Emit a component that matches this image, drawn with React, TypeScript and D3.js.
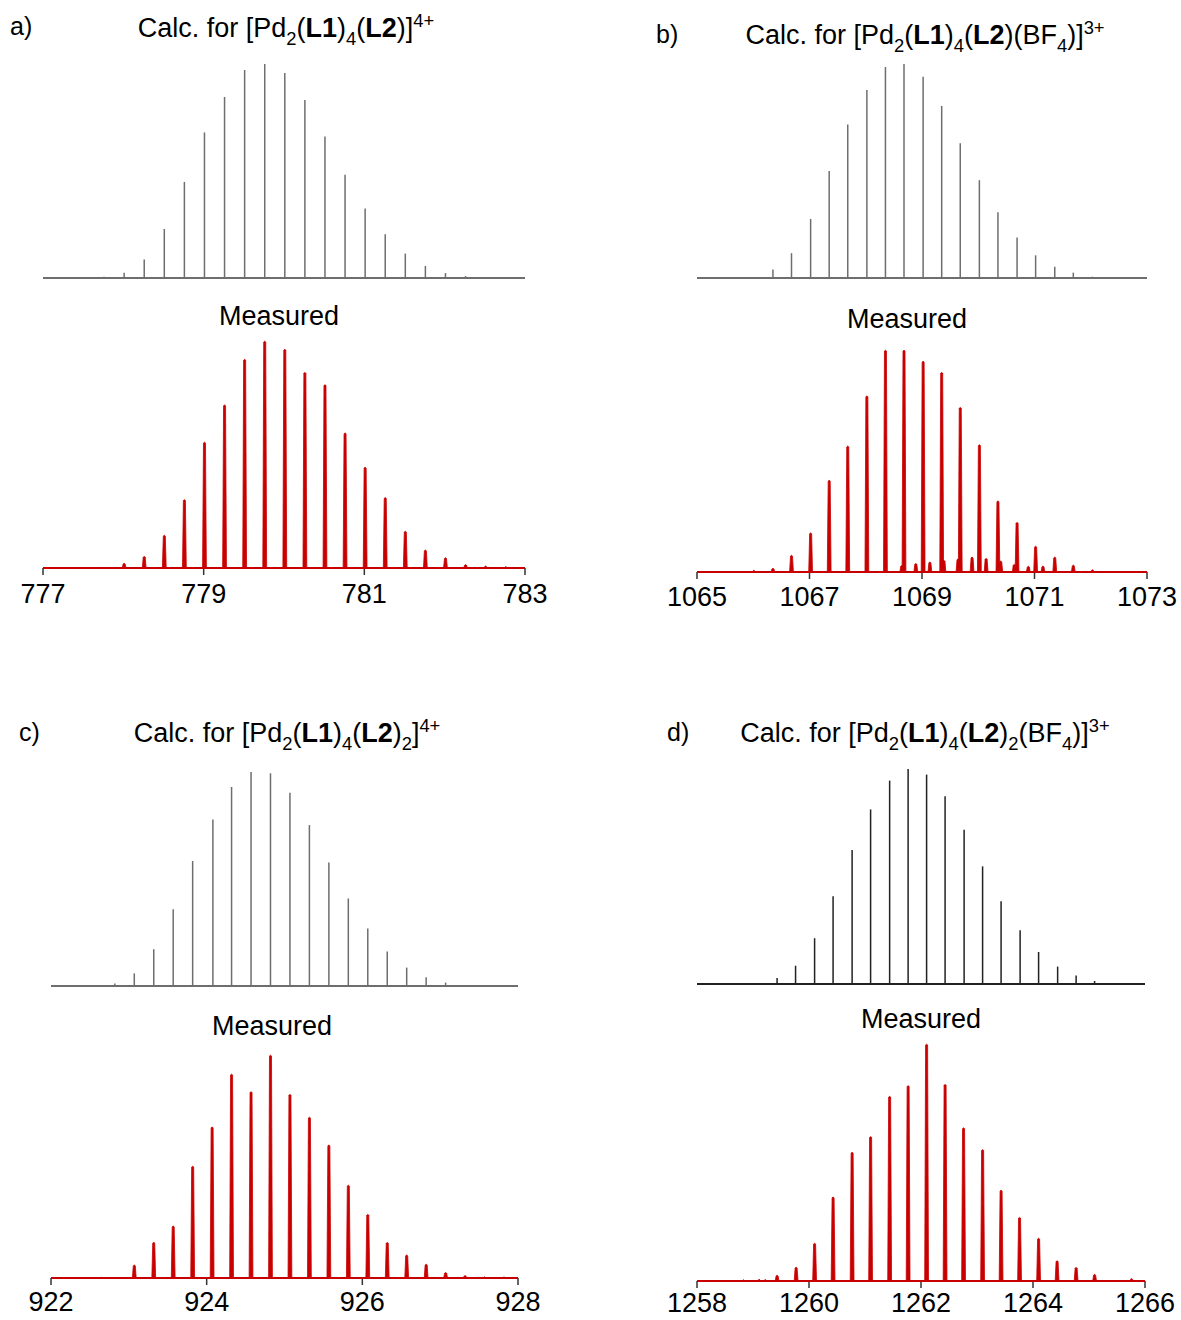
import React from "react";
import * as d3 from "d3";

// ---- isotope patterns: m/z and relative intensity ----
const calcA_mz = [777.76, 778.01, 778.26, 778.51, 778.76, 779.01, 779.26, 779.51, 779.76, 780.01, 780.26, 780.51, 780.76, 781.01, 781.26, 781.51, 781.76, 782.01, 782.26];
const calcA_int = [0.006, 0.025, 0.086, 0.229, 0.449, 0.68, 0.846, 0.972, 1.0, 0.958, 0.832, 0.661, 0.482, 0.325, 0.204, 0.114, 0.056, 0.023, 0.009];
const measA_mz = [777.25, 777.76, 778.01, 778.26, 778.51, 778.76, 779.01, 779.26, 779.51, 779.76, 780.01, 780.26, 780.51, 780.76, 781.01, 781.26, 781.51, 781.76, 782.01, 782.26, 782.51, 782.76];
const measA_int = [0.003, 0.004, 0.022, 0.052, 0.145, 0.302, 0.555, 0.719, 0.92, 1.0, 0.964, 0.862, 0.808, 0.596, 0.445, 0.311, 0.163, 0.08, 0.046, 0.016, 0.01, 0.007];

const calcB_mz = [1066.01, 1066.35, 1066.68, 1067.02, 1067.35, 1067.68, 1068.02, 1068.35, 1068.68, 1069.02, 1069.35, 1069.68, 1070.02, 1070.35, 1070.69, 1071.02, 1071.36, 1071.69, 1072.03];
const calcB_int = [0.005, 0.04, 0.116, 0.276, 0.5, 0.717, 0.879, 0.986, 1.0, 0.941, 0.804, 0.63, 0.457, 0.307, 0.189, 0.106, 0.053, 0.025, 0.006];
const measB_mz = [1065.67, 1066.01, 1066.35, 1066.68, 1067.02, 1067.35, 1067.68, 1068.02, 1068.35, 1068.68, 1069.02, 1069.35, 1069.68, 1070.02, 1070.35, 1070.69, 1071.02, 1071.36, 1071.69, 1072.03, 1072.36, 1072.7, 1072.83];
const measB_int = [0.003, 0.009, 0.018, 0.076, 0.177, 0.414, 0.568, 0.794, 1.0, 1.0, 0.95, 0.9, 0.742, 0.574, 0.321, 0.224, 0.117, 0.068, 0.032, 0.011, 0.004, 0.003, 0.003];
// minor 4+ species overlapping the 3+ envelope
const measB2_mz = [1068.64, 1068.89, 1069.14, 1069.39, 1069.64, 1069.89, 1070.14, 1070.4, 1070.64, 1070.89, 1071.15];
const measB2_int = [0.03, 0.039, 0.046, 0.053, 0.06, 0.068, 0.062, 0.05, 0.035, 0.027, 0.028];

const calcC_mz = [922.82, 923.07, 923.32, 923.57, 923.82, 924.08, 924.32, 924.57, 924.82, 925.07, 925.32, 925.57, 925.82, 926.07, 926.32, 926.57, 926.82, 927.07, 927.32];
const calcC_int = [0.012, 0.059, 0.172, 0.359, 0.584, 0.778, 0.93, 1.0, 0.994, 0.903, 0.752, 0.577, 0.409, 0.269, 0.161, 0.086, 0.041, 0.016, 0.005];
const measC_mz = [922.65, 923.07, 923.32, 923.57, 923.82, 924.07, 924.32, 924.57, 924.82, 925.07, 925.32, 925.57, 925.82, 926.07, 926.32, 926.57, 926.82, 927.07, 927.32, 927.57, 927.82];
const measC_int = [0.004, 0.059, 0.161, 0.234, 0.502, 0.678, 0.915, 0.836, 1.0, 0.824, 0.722, 0.597, 0.417, 0.286, 0.16, 0.104, 0.063, 0.026, 0.012, 0.006, 0.006];

const calcD_mz = [1259.1, 1259.43, 1259.76, 1260.1, 1260.43, 1260.77, 1261.1, 1261.44, 1261.77, 1262.1, 1262.43, 1262.77, 1263.1, 1263.43, 1263.77, 1264.1, 1264.44, 1264.77, 1265.1, 1265.43];
const calcD_int = [0.003, 0.028, 0.085, 0.213, 0.408, 0.623, 0.812, 0.946, 1.0, 0.974, 0.873, 0.717, 0.547, 0.385, 0.25, 0.149, 0.081, 0.04, 0.014, 0.005];
const measD_mz = [1258.83, 1259.11, 1259.22, 1259.43, 1259.77, 1260.1, 1260.43, 1260.77, 1261.1, 1261.44, 1261.77, 1262.1, 1262.43, 1262.76, 1263.1, 1263.43, 1263.76, 1264.1, 1264.43, 1264.77, 1265.1, 1265.76];
const measD_int = [0.006, 0.008, 0.007, 0.025, 0.059, 0.16, 0.355, 0.544, 0.61, 0.78, 0.825, 1.0, 0.83, 0.647, 0.555, 0.384, 0.269, 0.181, 0.086, 0.058, 0.029, 0.011];

// ---- axis ticks ----
const ticksA = [777, 779, 781, 783];
const ticksB = [1065, 1067, 1069, 1071, 1073];
const ticksC = [922, 924, 926, 928];
const ticksD = [1258, 1260, 1262, 1264, 1266];

// ---- labels ----
type Seg = [string, "n" | "b" | "sub" | "sup"];
const titleA: Seg[] = [["Calc. for [Pd", "n"], ["2", "sub"], ["(", "n"], ["L1", "b"], [")", "n"], ["4", "sub"], ["(", "n"], ["L2", "b"], [")]", "n"], ["4+", "sup"]];
const titleB: Seg[] = [["Calc. for [Pd", "n"], ["2", "sub"], ["(", "n"], ["L1", "b"], [")", "n"], ["4", "sub"], ["(", "n"], ["L2", "b"], [")(BF", "n"], ["4", "sub"], [")]", "n"], ["3+", "sup"]];
const titleC: Seg[] = [["Calc. for [Pd", "n"], ["2", "sub"], ["(", "n"], ["L1", "b"], [")", "n"], ["4", "sub"], ["(", "n"], ["L2", "b"], [")", "n"], ["2", "sub"], ["]", "n"], ["4+", "sup"]];
const titleD: Seg[] = [["Calc. for [Pd", "n"], ["2", "sub"], ["(", "n"], ["L1", "b"], [")", "n"], ["4", "sub"], ["(", "n"], ["L2", "b"], [")", "n"], ["2", "sub"], ["(BF", "n"], ["4", "sub"], [")]", "n"], ["3+", "sup"]];
const panelLetters = ["a)", "b)", "c)", "d)"];
const measuredLabel = "Measured";

const FONT = "'Liberation Sans', Arial, Helvetica, sans-serif";
const RED = "#c90000";

type Layout = {
  x0: number; x1: number;
  calcBase: number; calcTop: number;
  measBase: number; measTop: number;
  titleX: number; titleY: number;
  letterX: number; letterY: number;
  measLabelX: number; measLabelY: number;
  tickLabelY: number;
  calcColor: string;
};

type Panel = {
  letter: string;
  title: Seg[];
  domain: [number, number];
  ticks: number[];
  calc: { mz: number[]; int: number[] };
  meas: { mz: number[]; int: number[] }[];
  layout: Layout;
};

const panels: Panel[] = [
  {
    letter: panelLetters[0], title: titleA, domain: [777, 783], ticks: ticksA,
    calc: { mz: calcA_mz, int: calcA_int },
    meas: [{ mz: measA_mz, int: measA_int }],
    layout: { x0: 43, x1: 525, calcBase: 278, calcTop: 64, measBase: 568, measTop: 341, titleX: 286, titleY: 37, letterX: 10, letterY: 35, measLabelX: 279, measLabelY: 325, tickLabelY: 603, calcColor: "#6e6e6e" },
  },
  {
    letter: panelLetters[1], title: titleB, domain: [1065, 1073], ticks: ticksB,
    calc: { mz: calcB_mz, int: calcB_int },
    meas: [{ mz: measB_mz, int: measB_int }, { mz: measB2_mz, int: measB2_int }],
    layout: { x0: 697, x1: 1147, calcBase: 278, calcTop: 64, measBase: 572, measTop: 350, titleX: 925, titleY: 44, letterX: 656, letterY: 43, measLabelX: 907, measLabelY: 328, tickLabelY: 606, calcColor: "#6e6e6e" },
  },
  {
    letter: panelLetters[2], title: titleC, domain: [922, 928], ticks: ticksC,
    calc: { mz: calcC_mz, int: calcC_int },
    meas: [{ mz: measC_mz, int: measC_int }],
    layout: { x0: 51, x1: 518, calcBase: 986, calcTop: 772, measBase: 1278, measTop: 1055, titleX: 287, titleY: 742, letterX: 19, letterY: 741, measLabelX: 272, measLabelY: 1035, tickLabelY: 1311, calcColor: "#6e6e6e" },
  },
  {
    letter: panelLetters[3], title: titleD, domain: [1258, 1266], ticks: ticksD,
    calc: { mz: calcD_mz, int: calcD_int },
    meas: [{ mz: measD_mz, int: measD_int }],
    layout: { x0: 697, x1: 1145, calcBase: 984, calcTop: 769, measBase: 1281, measTop: 1044, titleX: 925, titleY: 742, letterX: 667, letterY: 741, measLabelX: 921, measLabelY: 1028, tickLabelY: 1312, calcColor: "#222222" },
  },
];

function RichText({ segs, x, y, size }: { segs: Seg[]; x: number; y: number; size: number }) {
  let cur = 0;
  return (
    <text x={x} y={y} fontSize={size} fontFamily={FONT} textAnchor="middle" fill="#000">
      {segs.map(([t, k], i) => {
        const target = k === "sub" ? size * 0.3 : k === "sup" ? -size * 0.36 : 0;
        const dy = target - cur;
        cur = target;
        const small = k === "sub" || k === "sup";
        return (
          <tspan key={i} dy={dy} fontSize={small ? size * 0.68 : size} fontWeight={k === "b" ? "bold" : "normal"}>
            {t}
          </tspan>
        );
      })}
    </text>
  );
}

function SpectrumPanel({ p }: { p: Panel }) {
  const L = p.layout;
  const x = d3.scaleLinear().domain(p.domain).range([L.x0, L.x1]);
  const yCalc = d3.scaleLinear().domain([0, 1]).range([L.calcBase, L.calcTop]);
  const yMeas = d3.scaleLinear().domain([0, 1]).range([L.measBase, L.measTop]);

  // each measured peak as a narrow spike
  const spike = (mz: number, v: number) => {
    const cx = x(mz);
    const top = yMeas(v);
    const path = d3.path();
    path.moveTo(cx - 1.9, L.measBase);
    path.lineTo(cx - 1.0, top + 1);
    path.quadraticCurveTo(cx, top - 0.6, cx + 1.0, top + 1);
    path.lineTo(cx + 1.9, L.measBase);
    path.closePath();
    return path.toString();
  };

  return (
    <g>
      <text x={L.letterX} y={L.letterY} fontSize={25} fontFamily={FONT}>{p.letter}</text>
      <RichText segs={p.title} x={L.titleX} y={L.titleY} size={27} />

      {/* calculated stick spectrum */}
      <line x1={L.x0} x2={L.x1} y1={L.calcBase} y2={L.calcBase} stroke={L.calcColor} strokeWidth={2} />
      {p.calc.mz.map((m, i) => (
        <line key={i} x1={x(m)} x2={x(m)} y1={L.calcBase} y2={yCalc(p.calc.int[i])} stroke={L.calcColor} strokeWidth={1.5} />
      ))}

      {/* measured spectrum */}
      <text x={L.measLabelX} y={L.measLabelY} fontSize={27} fontFamily={FONT} textAnchor="middle">{measuredLabel}</text>
      {p.ticks.map((t) => (
        <line key={"t" + t} x1={x(t)} x2={x(t)} y1={L.measBase} y2={L.measBase + 7} stroke="#333" strokeWidth={1.5} />
      ))}
      <line x1={L.x0} x2={L.x1} y1={L.measBase} y2={L.measBase} stroke={RED} strokeWidth={2.2} />
      {p.meas.map((s, si) =>
        s.mz.map((m, i) => (
          <path key={si + "-" + i} d={spike(m, s.int[i])} fill={RED} stroke={RED} strokeWidth={0.8} strokeLinejoin="round" />
        ))
      )}
      {p.ticks.map((t) => (
        <text key={"l" + t} x={x(t)} y={L.tickLabelY} fontSize={27} fontFamily={FONT} textAnchor="middle">{t}</text>
      ))}
    </g>
  );
}

export default function App() {
  return (
    <svg width={1181} height={1320} style={{ position: "absolute", left: 0, top: 0, background: "#fff" }}>
      <rect width={1181} height={1320} fill="#fff" />
      {panels.map((p) => (
        <SpectrumPanel key={p.letter} p={p} />
      ))}
    </svg>
  );
}
